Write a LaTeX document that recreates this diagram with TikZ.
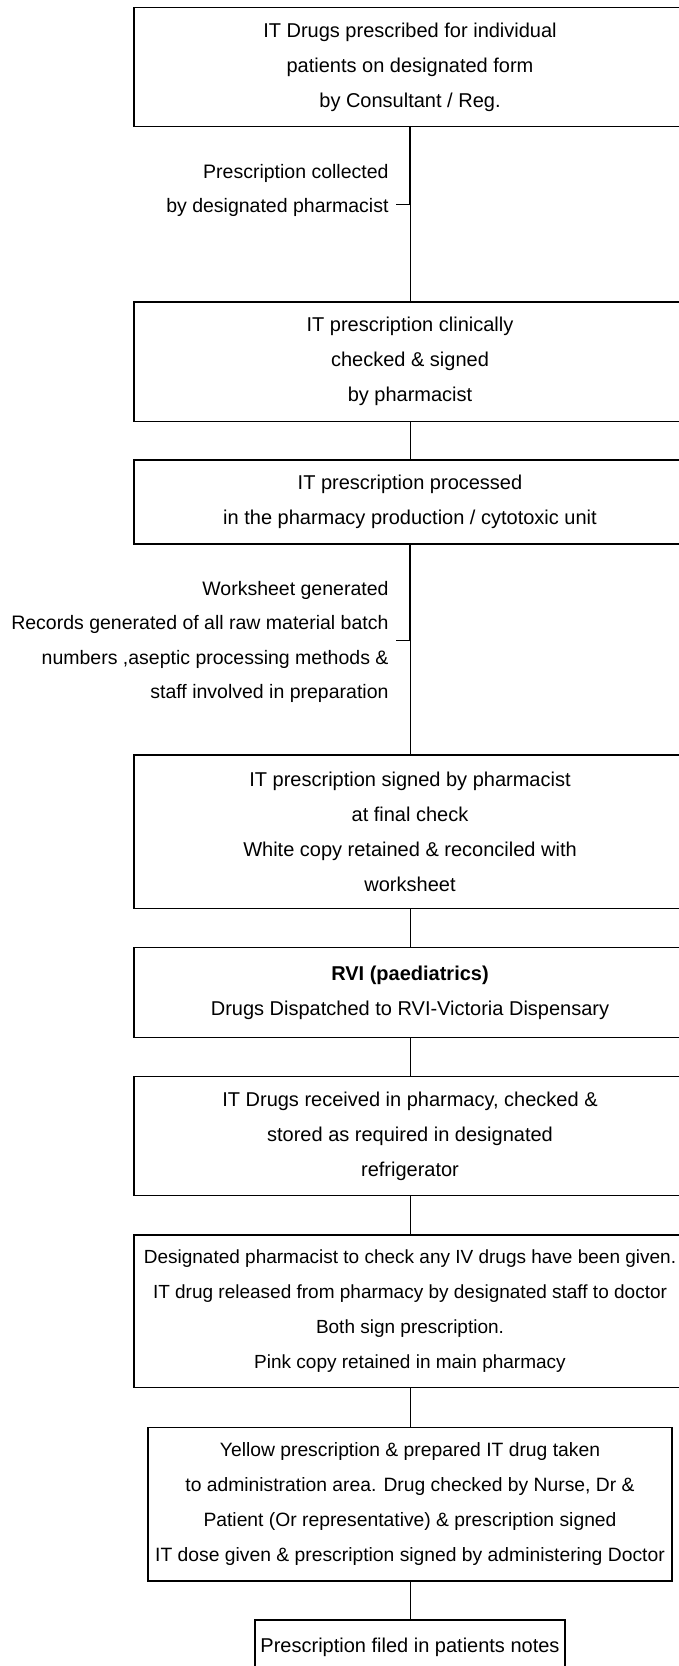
\documentclass[tikz,border=0pt]{standalone}
\usepackage{fontspec}
\setmainfont{Liberation Sans}
\tikzset{
  box/.style={draw, line width=1.4pt, rectangle, inner sep=0pt, align=center,
    font=\fontsize{20}{35}\selectfont, minimum width=552pt},
  side/.style={inner sep=0pt, align=right, font=\fontsize{19.5}{34.5}\selectfont, anchor=east},
  conn/.style={line width=1pt},
  connthick/.style={line width=1.6pt},
}
\begin{document}
\begin{tikzpicture}[x=1pt,y=-1pt]
\useasboundingbox (0,0) rectangle (678,1666);
\node[box, minimum height=119.4pt] (b1) at (410,67)
  {IT Drugs prescribed for individual\\patients on designated form\\by Consultant / Reg.};
\node[box, minimum height=119.3pt] (b2) at (410,361.7)
  {IT prescription clinically\\checked \& signed\\by pharmacist};
\node[box, minimum height=84.3pt] (b3) at (410,502)
  {IT prescription processed\\in the pharmacy production / cytotoxic unit};
\node[box, minimum height=153.7pt] (b4) at (410,831.8)
  {IT prescription signed by pharmacist\\at final check\\White copy retained \& reconciled with\\worksheet};
\node[box, minimum height=89.6pt] (b5) at (410,992.5)
  {{\bfseries RVI (paediatrics)}\\Drugs Dispatched to RVI-Victoria Dispensary};
\node[box, minimum height=119pt] (b6) at (410,1136.2)
  {IT Drugs received in pharmacy, checked \&\\stored as required in designated\\refrigerator};
\node[box, minimum height=152.7pt, font=\fontsize{19}{35}\selectfont] (b7) at (410,1311.3)
  {Designated pharmacist to check any IV drugs have been given.\\IT drug released from pharmacy by designated staff to doctor\\Both sign prescription.\\Pink copy retained in main pharmacy};
\node[box, minimum height=153.7pt, minimum width=524pt, font=\fontsize{19.3}{35}\selectfont] (b8) at (410,1504.2)
  {Yellow prescription \& prepared IT drug taken\\to administration area. Drug checked by Nurse, Dr \&\\Patient (Or representative) \& prescription signed\\IT dose given \& prescription signed by administering Doctor};
\node[box, minimum height=54pt, minimum width=310pt] (b9) at (410,1647)
  {Prescription filed in patients notes};

% side labels
\node[side] (l1) at (388.7,190.5) {Prescription collected\\by designated pharmacist};
\node[side] (l2) at (388.7,642) {Worksheet generated\\Records generated of all raw material batch\\numbers ,aseptic processing methods \&\\staff involved in preparation};

\coordinate (t1) at (410,204.7);
\coordinate (k1) at (396,204.7);
\coordinate (t2) at (410,640);
\coordinate (k2) at (396,640);

% connectors
\draw[connthick] (b1.south) -- (t1);
\draw[conn] (t1) -- (b2.north);
\draw[conn] (k1) -- (t1);
\draw[conn] (b2.south) -- (b3.north);
\draw[connthick] (b3.south) -- (t2);
\draw[conn] (t2) -- (b4.north);
\draw[conn] (k2) -- (t2);
\draw[conn] (b4.south) -- (b5.north);
\draw[conn] (b5.south) -- (b6.north);
\draw[conn] (b6.south) -- (b7.north);
\draw[conn] (b7.south) -- (b8.north);
\draw[conn] (b8.south) -- (b9.north);
\end{tikzpicture}
\end{document}
